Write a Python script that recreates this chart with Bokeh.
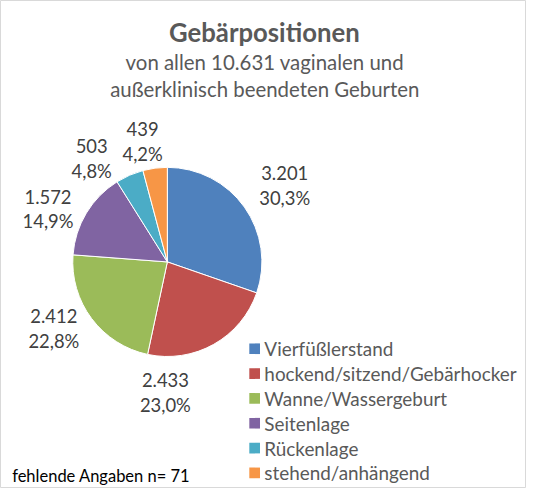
import numpy as np
from bokeh.plotting import figure
from bokeh.models import Range1d
from bokeh.core.properties import value
from bokeh.embed import file_html
from bokeh.resources import INLINE

# ---- data ----
categories = ["Vierfüßlerstand", "hockend/sitzend/Gebärhocker", "Wanne/Wassergeburt",
              "Seitenlage", "Rückenlage", "stehend/anhängend"]
counts = [3201, 2433, 2412, 1572, 503, 439]
colors = ["#4F81BD", "#C0504D", "#9BBB59", "#8064A2", "#4BACC6", "#F79646"]
title_text = "Gebärpositionen"
subtitle_lines = ["von allen 10.631 vaginalen und", "außerklinisch beendeten Geburten"]
note_text = "fehlende Angaben n= 71"

# ---- layout (positions measured in reference pixels, scaled to fit) ----
W, H = 526, 488
S = 0.97
def X(px): return px * S
def Y(py): return H - py * S
def F(px): return f"{px * S:.1f}px"

pie_cx, pie_cy, pie_r = 172, 269.5, 97.5
label_pos = [(293, 191), (170, 404.5), (55, 338), (49, 215), (94, 163), (146.5, 145)]
label_gap = 25.5
legend_x, legend_y0, legend_dy = 262, 359, 25.6

FONT = "Lato"
GRAY = "#595959"
LABEL = "#404040"

p = figure(width=W, height=H, x_range=Range1d(0, W), y_range=Range1d(0, H),
           output_backend="svg", toolbar_location=None, min_border=0,
           x_axis_type=None, y_axis_type=None)
p.grid.visible = False
p.outline_line_color = "#d9d9d9"
p.background_fill_color = "white"
p.border_fill_color = "white"

total = float(sum(counts))
frac = np.array(counts) / total
cum = np.concatenate([[0.0], np.cumsum(frac)])
start = np.pi / 2 - 2 * np.pi * cum[:-1]
end = np.pi / 2 - 2 * np.pi * cum[1:]

p.wedge(x=X(pie_cx), y=Y(pie_cy), radius=pie_r * S, start_angle=list(start), end_angle=list(end),
        direction="clock", fill_color=colors, line_color="white", line_width=1)

def fmt_count(v):
    return f"{v:,}".replace(",", ".")

def fmt_pct(f):
    return f"{f*100:.1f}".replace(".", ",") + "%"

for i, (v, f) in enumerate(zip(counts, frac)):
    lx, ly = label_pos[i]
    p.text(x=[X(lx)], y=[Y(ly - label_gap / 2)], text=[fmt_count(v)], text_align="center",
           text_baseline="middle", text_font=value(FONT), text_font_size=F(19),
           text_color=LABEL)
    p.text(x=[X(lx)], y=[Y(ly + label_gap / 2)], text=[fmt_pct(f)], text_align="center",
           text_baseline="middle", text_font=value(FONT), text_font_size=F(19),
           text_color=LABEL)

# legend
ly = [Y(legend_y0 + i * legend_dy) for i in range(len(categories))]
p.scatter(x=[X(legend_x)] * len(categories), y=ly, marker="square", size=11 * S,
          fill_color=colors, line_color=None)
p.text(x=[X(legend_x + 10)] * len(categories), y=ly, text=categories, text_align="left",
       text_baseline="middle", text_font=value(FONT), text_font_size=F(19.5), text_color=GRAY)

# title
p.text(x=[X(272)], y=[Y(32)], text=[title_text], text_align="center", text_baseline="middle",
       text_font=value(FONT), text_font_size=F(26.5), text_font_style="bold", text_color=GRAY)
for i, s in enumerate(subtitle_lines):
    p.text(x=[X(272.5)], y=[Y(63 + i * 28.5)], text=[s], text_align="center", text_baseline="middle",
           text_font=value(FONT), text_font_size=F(21), text_color=GRAY)

p.text(x=[X(12)], y=[Y(490)], text=[note_text], text_align="left", text_baseline="middle",
       text_font=value(FONT), text_font_size=F(17), text_color="black")

open("out.html", "w").write(file_html(p, INLINE))
